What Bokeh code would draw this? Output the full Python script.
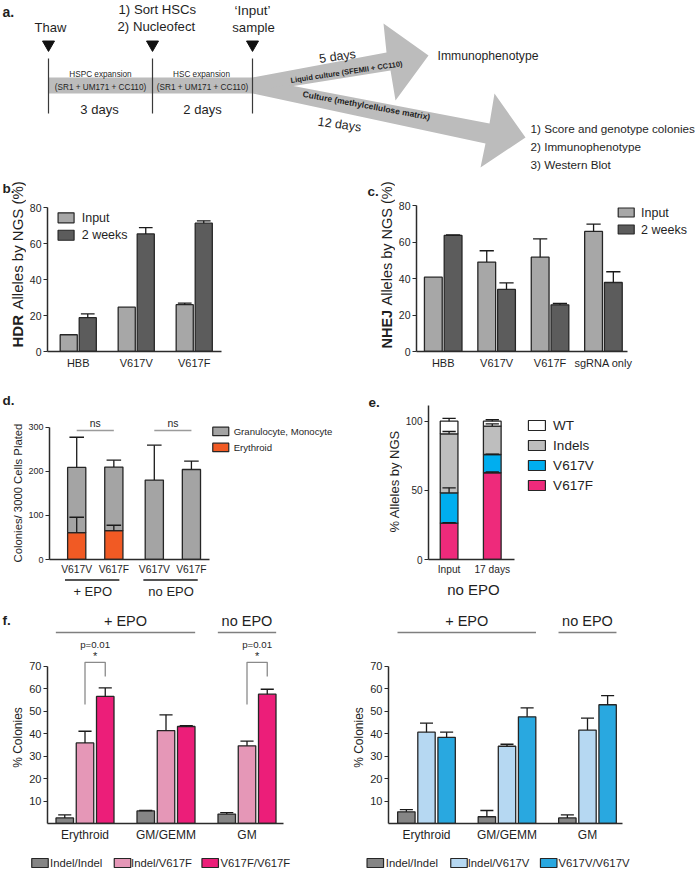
import numpy as np
from bokeh.plotting import figure
from bokeh.models import Range1d, FixedTicker, ColumnDataSource
from bokeh.layouts import column, row
from bokeh.embed import file_html
from bokeh.resources import INLINE
from bokeh.core.properties import value

# ---------------- data ----------------
b_categories = ["HBB", "V617V", "V617F"]
b_input = [9.3, 24.6, 26.0]
b_input_err = [0.0, 0.0, 0.9]
b_2weeks = [18.8, 65.3, 71.3]
b_2weeks_err = [2.1, 3.5, 1.3]

c_categories = ["HBB", "V617V", "V617F", "sgRNA only"]
c_input = [40.7, 49.0, 51.7, 65.8]
c_input_err = [0.0, 6.2, 10.0, 4.0]
c_2weeks = [63.6, 34.0, 25.6, 37.8]
c_2weeks_err = [0.3, 3.6, 0.7, 5.9]

d_groups = ["+ EPO", "no EPO"]
d_genotypes = ["V617V", "V617F"]
d_erythroid = [61.0, 65.6, 0.0, 0.0]
d_erythroid_err = [34.7, 12.0, 0.0, 0.0]
d_gran_mono = [147.7, 143.9, 180.0, 204.0]
d_gran_mono_err = [68.3, 15.5, 79.0, 19.0]

e_categories = ["Input", "17 days"]
e_v617f = [26.3, 62.7]
e_v617f_err = [0.3, 0.6]
e_v617v = [21.9, 13.2]
e_v617v_err = [3.6, 0.3]
e_indels = [42.6, 20.5]
e_indels_err = [1.7, 1.6]
e_wt = [9.2, 3.6]
e_wt_err = [2.0, 1.0]

f_categories = ["Erythroid", "GM/GEMM", "GM"]
fF_names = ["Indel/Indel", "Indel/V617F", "V617F/V617F"]
fF_indel_indel = [2.5, 5.6, 4.2]
fF_indel_indel_err = [1.3, 0.2, 0.6]
fF_indel_v617f = [35.9, 41.4, 34.6]
fF_indel_v617f_err = [5.2, 7.0, 2.1]
fF_v617f_v617f = [56.6, 43.2, 57.6]
fF_v617f_v617f_err = [3.8, 0.4, 2.2]
fV_names = ["Indel/Indel", "Indel/V617V", "V617V/V617V"]
fV_indel_indel = [5.2, 3.0, 2.5]
fV_indel_indel_err = [1.0, 2.8, 1.3]
fV_indel_v617v = [40.7, 34.4, 41.6]
fV_indel_v617v_err = [4.0, 0.9, 5.3]
fV_v617v_v617v = [38.4, 47.5, 52.9]
fV_v617v_v617v_err = [2.3, 4.0, 4.1]

# ---------------- style ----------------
FONT = "Liberation Sans"
INK = "#1f1f1f"
AXC = "#2b2b2b"
EDGE = "#262626"
ERR = "#1a1a1a"
C_IN, C_2W = "#a7a7a7", "#5c5c5c"
C_GM, C_ERY = "#a4a4a4", "#f15a24"
C_WT, C_IND, C_V, C_F = "#ffffff", "#bebebe", "#00aeef", "#ee2a7b"
F_II, F_IF, F_FF = "#858585", "#e597b7", "#ec1e79"
F_IV, F_VV = "#b6d8f2", "#29a8e0"
ARROW = "#bcbcbc"


def R(v):
    return int(round(v))


class Panel:
    """A figure whose canvas covers box and whose frame covers frame (page px)."""

    def __init__(self, box, frame, xr, yr, axes=True):
        bx0, bx1, by0, by1 = box
        fx0, fx1, fy0, fy1 = frame
        self.frame, self.xr, self.yr = frame, xr, yr
        kw = {} if axes else dict(x_axis_type=None, y_axis_type=None)
        self.p = figure(width=R(bx1) - R(bx0), height=R(by1) - R(by0),
                        x_range=Range1d(*xr), y_range=Range1d(*yr),
                        min_border_left=R(fx0) - R(bx0), min_border_right=R(bx1) - R(fx1),
                        min_border_top=R(fy0) - R(by0), min_border_bottom=R(by1) - R(fy1),
                        output_backend="svg", toolbar_location=None, **kw)
        p = self.p
        try:
            p.frame_align = False
        except Exception:
            pass
        p.outline_line_color = None
        p.background_fill_color = "white"
        p.border_fill_color = "white"
        if axes:
            p.xgrid.visible = False
            p.ygrid.visible = False

    def X(self, px):
        fx0, fx1 = self.frame[0], self.frame[1]
        return self.xr[0] + (px - fx0) / (fx1 - fx0) * (self.xr[1] - self.xr[0])

    def Y(self, py):
        fy0, fy1 = self.frame[2], self.frame[3]
        return self.yr[0] + (fy1 - py) / (fy1 - fy0) * (self.yr[1] - self.yr[0])

    def PX(self, x):
        fx0, fx1 = self.frame[0], self.frame[1]
        return fx0 + (x - self.xr[0]) / (self.xr[1] - self.xr[0]) * (fx1 - fx0)


def Strip(x0, x1, y0, y1):
    return Panel((x0, x1, y0, y1), (x0, x1, y0, y1), (x0, x1), (y1, y0), axes=False)


def txt_d(p, x, y, s, size, align="left", base="middle", angle=0.0, style="normal", color=INK):
    p.text(x=[x], y=[y], text=[s], text_font=value(FONT), text_font_size=value(f"{size}px"),
           text_align=align, text_baseline=base, angle=angle, text_font_style=style,
           text_color=color)


def txt(P, px, py, s, size, **kw):
    txt_d(P.p, P.X(px), P.Y(py), s, size, **kw)


def swatch(P, px, py, w, h, color):
    P.p.rect(x=[P.X(px)], y=[P.Y(py)], width=w, height=h, width_units="screen",
             height_units="screen", fill_color=color, line_color=EDGE, line_width=1.2)


def errbars(p, x, top, err, capw):
    x = np.asarray(x, float)
    top = np.asarray(top, float)
    err = np.asarray(err, float)
    m = err > 0
    if not m.any():
        return
    up = top + err
    p.segment(x0=x[m], y0=top[m], x1=x[m], y1=up[m], line_color=ERR, line_width=1.3)
    p.segment(x0=(x - capw / 2)[m], y0=up[m], x1=(x + capw / 2)[m], y1=up[m],
              line_color=ERR, line_width=1.3)


def style_axes(P, yticks, xticks, xlabels, ytfs, xtfs, ybounds=None, xbounds=None,
               ystand=2, xstand=5):
    p = P.p
    for ax in (p.xaxis[0], p.yaxis[0]):
        ax.axis_line_color = AXC
        ax.axis_line_width = 1.5
        ax.major_tick_line_color = AXC
        ax.major_tick_line_width = 1.2
        ax.minor_tick_line_color = None
        ax.major_label_text_color = INK
        ax.major_label_text_font = FONT
    ya = p.yaxis[0]
    ya.ticker = FixedTicker(ticks=[float(v) for v in yticks])
    ya.major_tick_in = 0
    ya.major_tick_out = 4
    ya.major_label_standoff = ystand
    ya.major_label_text_font_size = f"{ytfs}px"
    if ybounds is not None:
        ya.bounds = ybounds
    xa = p.xaxis[0]
    xt = [float(v) for v in xticks]
    xa.ticker = FixedTicker(ticks=xt)
    xa.major_label_overrides = {v: s for v, s in zip(xt, xlabels)}
    xa.major_tick_in = 0
    xa.major_tick_out = 0
    xa.major_tick_line_color = None
    xa.major_label_standoff = xstand
    xa.major_label_text_font_size = f"{xtfs}px"
    if xbounds is not None:
        xa.bounds = xbounds


UP = np.pi / 2
TOP_B = 178  # top of second row

# ---------------- panel a (schematic) ----------------
A = Strip(0, 698, 0, TOP_B)
pa = A.p
pa.patch([48, 252, 252, 48], [77, 77, 93, 93], fill_color=ARROW, line_color=None)
pa.patch([252, 386, 383, 428, 395, 390, 290, 252], [77, 52, 23, 55, 100, 70, 86, 93],
         fill_color=ARROW, line_color=None)
pa.patch([285, 489, 494, 525, 480, 485, 252], [84, 123, 93, 137, 167, 143, 93],
         fill_color=ARROW, line_color=None)
step_x = [48, 152, 252]
pa.segment(x0=step_x, y0=[58] * 3, x1=step_x, y1=[113] * 3, line_color="#3a3a3a", line_width=1.2)
pa.scatter(x=step_x, y=[44] * 3, marker="inverted_triangle", size=12, color="#111111")
txt(A, 2, 11, "a.", 14, style="bold")
txt(A, 50, 27, "Thaw", 13, align="center")
txt(A, 118, 8.5, "1) Sort HSCs", 13.2)
txt(A, 117, 25.5, "2) Nucleofect", 13.2)
txt(A, 252, 10, "\u2018Input\u2019", 13.5, align="center")
txt(A, 253, 27, "sample", 13.2, align="center")
txt(A, 100, 73.5, "HSPC expansion", 8.2, align="center")
txt(A, 100, 86.5, "(SR1 + UM171 + CC110)", 8.2, align="center")
txt(A, 201, 73.5, "HSC expansion", 8.2, align="center")
txt(A, 202, 86.5, "(SR1 + UM171 + CC110)", 8.2, align="center")
txt(A, 99, 109, "3 days", 13, align="center")
txt(A, 202, 109, "2 days", 13, align="center")
txt(A, 337, 56, "5 days", 12.5, align="center", angle=0.14)
txt(A, 346, 71.5, "Liquid culture (SFEMII + CC110)", 7.5, align="center", angle=0.15, style="bold")
txt(A, 366, 105, "Culture (methylcellulose matrix)", 8.5, align="center", angle=-0.18, style="bold")
txt(A, 339, 124, "12 days", 12.5, align="center", angle=-0.14)
txt(A, 437, 55, "Immunophenotype", 12.2)
txt(A, 530, 128, "1) Score and genotype colonies", 11.7)
txt(A, 530, 146, "2) Immunophenotype", 11.7)
txt(A, 530, 164, "3) Western Blot", 11.7)

# ---------------- panel b ----------------
bL = Strip(0, 26, TOP_B, 382)
txt(bL, 2, 188, "b.", 13.5, style="bold")
txt(bL, 17, 347, "HDR", 15, angle=UP, style="bold")
txt(bL, 17, 347 - 38.0, "Alleles by NGS (%)", 15, angle=UP)
B = Panel((26, 349, TOP_B, 382), (43, 221, 206.7, 351), (-0.03, 2.97), (0, 80))
pb = B.p
xb = np.arange(len(b_categories)) + 0.5
WB, OB = 0.295, 0.164
pb.vbar(x=xb - OB, top=b_input, width=WB, fill_color=C_IN, line_color=EDGE, line_width=1.3)
pb.vbar(x=xb + OB, top=b_2weeks, width=WB, fill_color=C_2W, line_color=EDGE, line_width=1.3)
errbars(pb, xb - OB, b_input, b_input_err, WB * 0.8)
errbars(pb, xb + OB, b_2weeks, b_2weeks_err, WB * 0.8)
style_axes(B, [0, 20, 40, 60, 80], xb, b_categories, 10.5, 11)
swatch(B, 62, 217, 16, 10, C_IN)
txt(B, 78, 217, "Input", 12.5)
swatch(B, 62, 234.5, 16, 10, C_2W)
txt(B, 78, 234.5, "2 weeks", 12.5)

# ---------------- panel c ----------------
cL = Strip(349, 395, TOP_B, 382)
txt(cL, 367, 191, "c.", 13.5, style="bold")
txt(cL, 386, 348, "NHEJ", 14.5, angle=UP, style="bold")
txt(cL, 386, 348 - 43.0, "Alleles by NGS (%)", 14.5, angle=UP)
C = Panel((395, 698, TOP_B, 382), (413, 690, 205, 351), (0.0, 277 / 54), (0, 80))
pc = C.p
xc = np.arange(len(c_categories)) + 0.5
WC, OC = 0.333, 0.185
pc.vbar(x=xc - OC, top=c_input, width=WC, fill_color=C_IN, line_color=EDGE, line_width=1.3)
pc.vbar(x=xc + OC, top=c_2weeks, width=WC, fill_color=C_2W, line_color=EDGE, line_width=1.3)
errbars(pc, xc - OC, c_input, c_input_err, WC * 0.8)
errbars(pc, xc + OC, c_2weeks, c_2weeks_err, WC * 0.8)
style_axes(C, [0, 20, 40, 60, 80], xc, c_categories, 10.5, 11, xbounds=(0.0, 213 / 54))
swatch(C, 625, 212, 16, 9, C_IN)
txt(C, 640, 212, "Input", 12.5)
swatch(C, 625, 229, 16, 9, C_2W)
txt(C, 640, 229, "2 weeks", 12.5)

# ---------------- panel d ----------------
dL = Strip(0, 25, 382, 577)
txt(dL, 2, 400, "d.", 13.5, style="bold")
txt(dL, 17.5, 492.5, "Colonies/ 3000 Cells Plated", 11.3, align="center", angle=UP)
D = Panel((25, 349, 382, 577), (46, 345, 382, 559.3), (-0.233, -0.233 + 299 / 37.5),
          (0, (559.3 - 382) / 0.442))
pd_ = D.p
GAP_D = 0.09
xd = np.array([g * (len(d_genotypes) + GAP_D) + j + 0.5
               for g in range(len(d_groups)) for j in range(len(d_genotypes))])
d_src = ColumnDataSource(dict(x=xd, ery=d_erythroid, gm=d_gran_mono))
pd_.vbar_stack(["ery", "gm"], x="x", width=0.49, source=d_src,
               fill_color=[C_ERY, C_GM], line_color=EDGE, line_width=1.3)
d_total = np.array(d_erythroid) + np.array(d_gran_mono)
errbars(pd_, xd, d_total, d_gran_mono_err, 0.49 * 0.8)
errbars(pd_, xd, d_erythroid, d_erythroid_err, 0.49 * 0.8)
style_axes(D, [0, 100, 200, 300], xd, d_genotypes * len(d_groups), 9, 10.3,
           ybounds=(0, 300), xbounds=(-0.233, -0.233 + 162 / 37.5), xstand=4)
pd_.segment(x0=[xd[0], xd[2]], y0=[292.5] * 2, x1=[xd[1], xd[3]], y1=[292.5] * 2,
            line_color="#9b9b9b", line_width=1.6)
swatch(D, 219, 431, 16, 8.5, C_GM)
txt(D, 232, 431, "Granulocyte, Monocyte", 9.6)
swatch(D, 219, 447, 16, 8.5, C_ERY)
txt(D, 232, 447, "Erythroid", 9.6)
dB = Strip(0, 349, 577, 604)
for g in range(len(d_groups)):
    xm = (xd[2 * g] + xd[2 * g + 1]) / 2
    txt_d(pd_, xm, 309, "ns", 10.4, align="center")
    dB.p.segment(x0=[D.PX(xd[2 * g] - 0.24)], y0=[579.5], x1=[D.PX(xd[2 * g + 1] + 0.21)],
                 y1=[579.5], line_color="#555555", line_width=2)
    txt(dB, D.PX(xm), 590.5, d_groups[g], 13, align="center")

# ---------------- panel e ----------------
eL = Strip(349, 402, 382, 577)
txt(eL, 368, 401.5, "e.", 13.5, style="bold")
txt(eL, 394, 480.8, "% Alleles by NGS", 13, align="center", angle=UP)
E = Panel((402, 698, 382, 577), (423, 690, 405, 559), (0.023, 0.023 + 267 / 44), (0, 111.3))
pe = E.p
xe = np.arange(len(e_categories)) + 0.5
e_src = ColumnDataSource(dict(x=xe, V617F=e_v617f, V617V=e_v617v, Indels=e_indels, WT=e_wt))
pe.vbar_stack(["V617F", "V617V", "Indels", "WT"], x="x", width=0.41, source=e_src,
              fill_color=[C_F, C_V, C_IND, C_WT], line_color=EDGE, line_width=1.3)
e_tops = np.cumsum([e_v617f, e_v617v, e_indels, e_wt], axis=0)
for t, er in zip(e_tops, [e_v617f_err, e_v617v_err, e_indels_err, e_wt_err]):
    errbars(pe, xe, t, er, 0.41 * 0.75)
style_axes(E, [0, 50, 100], xe, e_categories, 10, 10.2, xbounds=(0.023, 0.023 + 88 / 44),
           xstand=4)
for i, (nm, col) in enumerate(zip(["WT", "Indels", "V617V", "V617F"], [C_WT, C_IND, C_V, C_F])):
    swatch(E, 533.5, 425 + 20 * i, 17, 10, col)
    txt(E, 550, 425 + 20 * i, nm, 13.5)
eB = Strip(349, 698, 577, 604)
txt(eB, 473, 588.5, "no EPO", 15, align="center")


# ---------------- panel f ----------------
def f_panel(P, vals, errs, colors, brackets):
    p = P.p
    xf = np.arange(len(f_categories)) + 0.5
    offs = [-0.25, 0.0, 0.25]
    for v, c, o in zip(vals, colors, offs):
        p.vbar(x=xf + o, top=v, width=0.216, fill_color=c, line_color=EDGE, line_width=1.3)
    for v, e, o in zip(vals, errs, offs):
        errbars(p, xf + o, v, e, 0.216 * 0.75)
    style_axes(P, [10, 20, 30, 40, 50, 60, 70], xf, f_categories, 11, 12, ybounds=(0, 70),
               xstand=4)
    for (g0, g1), nm in zip([(0, 2), (2, 3)], ["+ EPO", "no EPO"]):
        p.segment(x0=[g0 + 0.14], y0=[85.1], x1=[g1 - 0.14], y1=[85.1],
                  line_color="#7f7f7f", line_width=1.4)
        txt_d(p, (g0 + g1) / 2, 90, nm, 14.5, align="center")
    for gi in brackets:
        xl, xr = xf[gi], xf[gi] + 0.25
        p.multi_line(xs=[[xl, xl, xr, xr]], ys=[[53, 71.8, 71.8, 65.5]],
                     line_color="#8a8a8a", line_width=1.3)
        txt_d(p, (xl + xr) / 2, 74.6, "*", 11, align="center")
        txt_d(p, (xl + xr) / 2, 79.6, "p=0.01", 9.7, align="center")


fLs = Strip(0, 26, 604, 848)
txt(fLs, 2, 620, "f.", 13.5, style="bold")
txt(fLs, 17, 737, "% Colonies", 12, align="center", angle=UP)
FL = Panel((26, 349, 604, 848), (47, 283, 604, 823), (0.037, 0.037 + 236 / 81),
           (0, (823 - 604) / 2.245))
f_panel(FL, [fF_indel_indel, fF_indel_v617f, fF_v617f_v617f],
        [fF_indel_indel_err, fF_indel_v617f_err, fF_v617f_v617f_err], [F_II, F_IF, F_FF], [0, 2])

fRs = Strip(349, 367, 604, 848)
txt(fRs, 358, 737, "% Colonies", 12, align="center", angle=UP)
FR = Panel((367, 698, 604, 848), (388, 622, 604, 823), (0.028, 0.028 + 234 / 80.5),
           (0, (823 - 604) / 2.245))
f_panel(FR, [fV_indel_indel, fV_indel_v617v, fV_v617v_v617v],
        [fV_indel_indel_err, fV_indel_v617v_err, fV_v617v_v617v_err], [F_II, F_IV, F_VV], [])

# ---------------- f legends ----------------
LL = Strip(0, 349, 848, 869)
LR = Strip(349, 698, 848, 869)
for P, names, cols, sq, tx in [
        (LL, fF_names, [F_II, F_IF, F_FF], [39.5, 122, 209.7], [49.6, 130.6, 220]),
        (LR, fV_names, [F_II, F_IV, F_VV], [374.8, 458.5, 548.2], [385.3, 467.2, 558])]:
    for nm, c, s, t in zip(names, cols, sq, tx):
        swatch(P, s, 862.5, 16.5, 9, c)
        txt(P, t, 862.5, nm, 11.3)

layout = column(
    A.p,
    row(bL.p, B.p, cL.p, C.p),
    row(column(row(dL.p, D.p), dB.p), column(row(eL.p, E.p), eB.p)),
    row(fLs.p, FL.p, fRs.p, FR.p),
    row(LL.p, LR.p),
)
open("out.html", "w").write(file_html(layout, INLINE))
